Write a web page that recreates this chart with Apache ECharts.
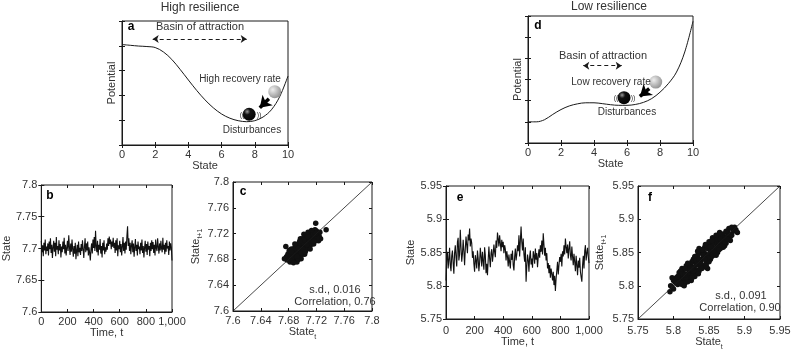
<!DOCTYPE html>
<html>
<head>
<meta charset="utf-8">
<script src="https://cdn.jsdelivr.net/npm/echarts@6/dist/echarts.min.js"></script>
<style>html,body{margin:0;padding:0;background:#fff}#main{width:800px;height:352px}</style>
</head>
<body>
<div id="main"></div>
<script>
// 势能曲线（状态 0-10）
var stateGrid = [0,0.5,1,1.5,2,2.5,3,3.5,4,4.5,5,5.5,6,6.5,7,7.5,8,8.5,9,9.5,10];
var highPotential = [4.05,4.02,3.99,3.97,3.93,3.75,3.45,3.05,2.62,2.2,1.82,1.5,1.25,1.08,0.98,0.94,0.98,1.13,1.42,1.95,2.78];
var lowPotential = [1.0,1.0,1.1,1.35,1.58,1.75,1.85,1.9,1.9,1.86,1.81,1.78,1.78,1.82,1.92,2.1,2.4,2.8,3.35,4.3,5.75];

// 球的位置 [state, potential]
var highGreyBall = [9.2, 2.15], highBlackBall = [7.66, 1.24];
var lowGreyBall = [7.74, 2.88], lowBlackBall = [5.82, 2.14];
var highPush = [[8.85, 1.86], [8.3, 1.5]];
var lowPush = [[7.35, 2.57], [6.78, 2.2]];
var highBasin = [[1.85, 4.27], [7.51, 4.27]];
var lowBasin = [[3.35, 3.65], [5.68, 3.65]];

// 时间序列，每 5 步一个值（t = 0..1000）
var highSeries = [
7.712,7.694,7.705,7.688,7.709,7.697,7.714,7.691,7.703,7.696,
7.708,7.689,7.711,7.699,7.716,7.693,7.706,7.685,7.702,7.712,
7.695,7.709,7.688,7.718,7.698,7.704,7.691,7.713,7.697,7.707,
7.686,7.703,7.694,7.711,7.699,7.717,7.692,7.706,7.689,7.701,
7.712,7.696,7.721,7.703,7.690,7.708,7.695,7.714,7.699,7.687,
7.704,7.692,7.709,7.683,7.697,7.706,7.688,7.711,7.694,7.701,
7.690,7.707,7.696,7.713,7.699,7.685,7.703,7.716,7.694,7.708,
7.697,7.711,7.689,7.702,7.693,7.681,7.699,7.708,7.692,7.714,
7.701,7.718,7.696,7.728,7.703,7.694,7.712,7.689,7.706,7.698,
7.715,7.692,7.704,7.686,7.709,7.697,7.713,7.691,7.702,7.695,
7.708,7.698,7.716,7.704,7.719,7.707,7.714,7.699,7.711,7.703,
7.717,7.701,7.709,7.693,7.713,7.697,7.716,7.688,7.705,7.699,
7.712,7.694,7.707,7.689,7.703,7.718,7.696,7.709,7.692,7.711,
7.698,7.720,7.735,7.704,7.716,7.696,7.709,7.691,7.705,7.713,
7.694,7.708,7.687,7.702,7.715,7.696,7.706,7.689,7.711,7.699,
7.703,7.691,7.709,7.697,7.714,7.693,7.704,7.686,7.701,7.712,
7.695,7.707,7.690,7.711,7.698,7.704,7.688,7.709,7.696,7.713,
7.699,7.710,7.693,7.706,7.689,7.714,7.701,7.696,7.716,7.703,
7.692,7.708,7.697,7.712,7.700,7.694,7.717,7.698,7.706,7.691,
7.709,7.695,7.713,7.700,7.704,7.690,7.711,7.697,7.708,7.702,
7.681];
var lowSeries = [
5.808,5.842,5.851,5.826,5.839,5.857,5.831,5.822,5.845,5.853,
5.834,5.818,5.849,5.861,5.843,5.829,5.866,5.872,5.838,5.847,
5.884,5.858,5.836,5.848,5.869,5.852,5.831,5.856,5.874,5.861,
5.849,5.877,5.868,5.886,5.859,5.871,5.864,5.842,5.852,5.833,
5.821,5.846,5.838,5.826,5.853,5.841,5.822,5.835,5.857,5.844,
5.829,5.851,5.837,5.824,5.858,5.846,5.819,5.833,5.816,5.839,
5.859,5.841,5.828,5.849,5.855,5.836,5.847,5.862,5.851,5.843,
5.868,5.857,5.880,5.871,5.859,5.876,5.864,5.852,5.869,5.858,
5.866,5.849,5.861,5.855,5.838,5.852,5.844,5.829,5.847,5.835,
5.826,5.848,5.839,5.853,5.831,5.823,5.844,5.856,5.838,5.847,
5.861,5.852,5.876,5.844,5.868,5.889,5.866,5.853,5.871,5.847,
5.836,5.858,5.806,5.829,5.847,5.839,5.821,5.844,5.853,5.832,
5.841,5.827,5.852,5.846,5.833,5.856,5.839,5.849,5.828,5.843,
5.855,5.842,5.861,5.851,5.868,5.847,5.879,5.862,5.845,5.857,
5.838,5.849,5.826,5.834,5.819,5.831,5.812,5.826,5.818,5.808,
5.821,5.801,5.815,5.792,5.811,5.823,5.836,5.817,5.831,5.843,
5.836,5.848,5.829,5.852,5.844,5.861,5.847,5.871,5.858,5.849,
5.862,5.841,5.856,5.867,5.846,5.838,5.859,5.844,5.831,5.848,
5.836,5.822,5.845,5.831,5.816,5.838,5.827,5.842,5.821,5.813,
5.806,5.831,5.845,5.826,5.852,5.861,5.838,5.849,5.857,5.844,
5.834];

// 滞后散点 [state_t, state_t+1]
var highLag = [
[7.700,7.700],[7.702,7.698],[7.698,7.703],[7.705,7.706],[7.695,7.694],[7.703,7.708],[7.697,7.692],[7.708,7.704],[7.692,7.697],[7.710,7.711],
[7.690,7.689],[7.706,7.713],[7.694,7.686],[7.712,7.706],[7.688,7.694],[7.714,7.716],[7.686,7.684],[7.701,7.711],[7.699,7.689],[7.716,7.710],
[7.684,7.690],[7.709,7.717],[7.691,7.683],[7.718,7.714],[7.682,7.682],[7.704,7.715],[7.696,7.685],[7.713,7.720],[7.687,7.680],[7.720,7.717],
[7.680,7.686],[7.707,7.701],[7.693,7.699],[7.711,7.709],[7.689,7.691],[7.699,7.707],[7.701,7.693],[7.715,7.713],[7.685,7.687],[7.703,7.703],
[7.697,7.697],[7.706,7.698],[7.694,7.702],[7.712,7.703],[7.688,7.697],[7.709,7.712],[7.691,7.688],[7.717,7.719],[7.683,7.681],[7.722,7.721],
[7.678,7.679],[7.720,7.724],[7.676,7.700],[7.734,7.726],[7.719,7.736],[7.692,7.676],[7.724,7.716],[7.679,7.688],[7.714,7.723],[7.686,7.678],
[7.726,7.712],[7.681,7.694],[7.708,7.722],[7.694,7.680],[7.723,7.709],[7.677,7.684],[7.702,7.719],[7.698,7.681],[7.718,7.726],[7.682,7.676],
[7.705,7.695],[7.695,7.705],[7.710,7.700],[7.690,7.700],[7.700,7.712],[7.700,7.688],[7.716,7.704],[7.684,7.696],[7.707,7.718],[7.693,7.682],
[7.719,7.709],[7.681,7.691],[7.713,7.725],[7.687,7.675],[7.725,7.722],[7.674,7.681],[7.703,7.688],[7.697,7.712],[7.711,7.696],[7.689,7.704],
[7.721,7.713],[7.679,7.685],[7.715,7.721],[7.685,7.679],[7.706,7.710],[7.694,7.690],[7.708,7.708],[7.692,7.692],[7.713,7.716],[7.687,7.684],
[7.699,7.704],[7.704,7.699],[7.696,7.700],[7.702,7.705],[7.707,7.711],[7.693,7.690],[7.711,7.714],[7.689,7.686],[7.705,7.702],[7.695,7.698],
[7.698,7.695],[7.703,7.697],[7.709,7.705],[7.691,7.694],[7.713,7.711],[7.687,7.689],[7.715,7.718],[7.685,7.683],[7.700,7.696],[7.701,7.706],
[7.706,7.703],[7.694,7.697],[7.710,7.714],[7.690,7.686],[7.712,7.708],[7.688,7.692],[7.717,7.715],[7.683,7.685],[7.719,7.720],[7.681,7.680],
[7.702,7.710],[7.698,7.690],[7.708,7.715],[7.692,7.685],[7.714,7.710],[7.686,7.690],[7.704,7.692],[7.696,7.708],[7.716,7.708],[7.684,7.692]
];
var lowLag = [
[5.840,5.840],[5.845,5.848],[5.835,5.832],[5.850,5.846],[5.830,5.836],[5.855,5.858],[5.825,5.822],[5.860,5.855],[5.820,5.826],[5.848,5.856],
[5.832,5.824],[5.865,5.862],[5.815,5.818],[5.852,5.840],[5.828,5.840],[5.870,5.866],[5.812,5.808],[5.842,5.852],[5.838,5.828],[5.858,5.868],
[5.822,5.812],[5.868,5.874],[5.810,5.815],[5.846,5.834],[5.834,5.846],[5.862,5.850],[5.818,5.830],[5.874,5.870],[5.806,5.802],[5.856,5.864],
[5.826,5.816],[5.876,5.880],[5.802,5.806],[5.838,5.850],[5.842,5.830],[5.864,5.872],[5.816,5.808],[5.880,5.874],[5.800,5.795],[5.851,5.861],
[5.829,5.819],[5.872,5.860],[5.808,5.820],[5.860,5.870],[5.820,5.810],[5.884,5.882],[5.796,5.800],[5.854,5.844],[5.826,5.836],[5.866,5.856],
[5.814,5.824],[5.878,5.886],[5.795,5.791],[5.844,5.858],[5.836,5.822],[5.870,5.878],[5.812,5.802],[5.888,5.884],[5.804,5.812],[5.858,5.848],
[5.824,5.832],[5.868,5.864],[5.818,5.814],[5.852,5.852],[5.832,5.832],[5.862,5.860],[5.822,5.820],[5.874,5.864],[5.808,5.816],[5.848,5.860],
[5.834,5.820],[5.866,5.876],[5.816,5.804],[5.882,5.876],[5.800,5.808],[5.856,5.846],[5.828,5.828],[5.872,5.872],[5.812,5.812],[5.840,5.854],
[5.846,5.828],[5.860,5.866],[5.824,5.814],[5.876,5.874],[5.806,5.810],[5.850,5.838],[5.830,5.842],[5.864,5.866],[5.820,5.818],[5.854,5.862],
[5.828,5.816],[5.870,5.868],[5.814,5.812],[5.842,5.846],[5.838,5.836],[5.858,5.852],[5.824,5.828],[5.878,5.878],[5.804,5.804],[5.886,5.888],
[5.890,5.880],[5.798,5.812],[5.880,5.868],[5.812,5.826],[5.836,5.856],[5.848,5.826],
[5.840,5.826],[5.840,5.854],[5.850,5.836],[5.830,5.844],[5.860,5.846],[5.820,5.834],[5.870,5.858],[5.810,5.822],[5.845,5.862],[5.835,5.818],
[5.855,5.872],[5.825,5.808],[5.865,5.880],[5.815,5.800],[5.848,5.842],[5.832,5.838],[5.858,5.856],[5.822,5.824],[5.868,5.860],[5.812,5.818],
[5.838,5.834],[5.842,5.846],[5.852,5.858],[5.828,5.822],[5.862,5.870],[5.818,5.812],[5.872,5.866],[5.808,5.806],[5.844,5.840],[5.836,5.840],
[5.856,5.852],[5.826,5.826],[5.866,5.870],[5.816,5.816],[5.876,5.870],[5.806,5.814],[5.850,5.866],[5.830,5.814],[5.860,5.876],[5.820,5.806],
[5.834,5.852],[5.846,5.830],[5.854,5.868],[5.826,5.812],[5.864,5.854],[5.816,5.826],[5.874,5.882],[5.810,5.804],[5.882,5.888],[5.798,5.798]
];

var font = '"Liberation Sans", Arial, sans-serif';
var ink = '#1a1a1a';
var txt = '#333';

function pairs(xs, ys) {
	var out = [];
	for (var i = 0; i < ys.length; i++) out.push([xs[i], ys[i]]);
	return out;
}
function timePairs(vals) {
	var out = [];
	for (var i = 0; i < vals.length; i++) out.push([i * 5, vals[i]]);
	return out;
}
function commaFmt(v) { return v >= 1000 ? '1,000' : String(v); }

var subRich = {
	m: {fontSize: 11, fontFamily: font, color: txt, lineHeight: 16, verticalAlign: 'middle'},
	s: {fontSize: 7, fontFamily: font, color: txt, lineHeight: 16, verticalAlign: 'bottom'}
};

// 每个面板：底/顶 x 轴，左/右 y 轴
var grids = [], xAxes = [], yAxes = [];
function panel(box, xr, yr, o) {
	var gi = grids.length;
	grids.push({left: box[0], top: box[1], width: box[2], height: box[3], show: true, borderColor: ink, borderWidth: 1, backgroundColor: 'transparent'});
	var tick = {show: true, inside: true, length: 3, lineStyle: {color: ink, width: 1}};
	xAxes.push({
		type: 'value', gridIndex: gi, position: 'bottom', min: xr[0], max: xr[1], interval: xr[2],
		axisLine: {show: true, onZero: false, lineStyle: {color: ink, width: 1}}, axisTick: tick,
		axisLabel: {color: txt, fontSize: 11, fontFamily: font, margin: o.xMargin || 4, formatter: o.xFmt},
		splitLine: {show: false},
		name: o.xName, nameLocation: 'middle', nameGap: o.xGap,
		nameTextStyle: {color: txt, fontSize: 11, fontFamily: font, rich: subRich}
	});
	xAxes.push({
		type: 'value', gridIndex: gi, position: 'top', min: xr[0], max: xr[1], interval: xr[2],
		axisLine: {show: false}, axisTick: tick, axisLabel: {show: false}, splitLine: {show: false}
	});
	yAxes.push({
		type: 'value', gridIndex: gi, position: 'left', min: yr[0], max: yr[1], interval: yr[2],
		axisLine: {show: true, onZero: false, lineStyle: {color: ink, width: 1}}, axisTick: tick,
		axisLabel: {show: !o.noYLabels, color: txt, fontSize: 11, fontFamily: font, margin: 4},
		splitLine: {show: false},
		name: o.yName, nameLocation: 'middle', nameGap: o.yGap,
		nameTextStyle: {color: txt, fontSize: 11, fontFamily: font, rich: subRich}
	});
	yAxes.push({
		type: 'value', gridIndex: gi, position: 'right', min: yr[0], max: yr[1], interval: yr[2],
		axisLine: {show: false}, axisTick: tick, axisLabel: {show: false}, splitLine: {show: false}
	});
	return gi;
}

var pA = panel([122, 21, 166, 124], [0, 10, 2], [0, 5, 1], {xName: 'State', xGap: 14, yName: 'Potential', yGap: 5, noYLabels: true});
var pD = panel([528, 16, 165, 127], [0, 10, 2], [0, 6, 1], {xName: 'State', xGap: 13, yName: 'Potential', yGap: 5, noYLabels: true});
var pB = panel([38, 185, 134, 127], [0, 1000, 200], [7.6, 7.8, 0.05], {xName: 'Time, t', xGap: 15, yName: 'State', yGap: 28, xFmt: commaFmt});
var pC = panel([233, 182, 139, 129], [7.6, 7.8, 0.04], [7.6, 7.8, 0.04], {xName: '{m|State}{s|t}', xGap: 13, yName: '{m|State}{s|t+1}', yGap: 26});
var pE = panel([446, 186, 143, 133], [0, 1000, 200], [5.75, 5.95, 0.05], {xName: 'Time, t', xGap: 16, yName: 'State', yGap: 30, xFmt: commaFmt, xMargin: 6});
var pF = panel([638, 186, 142, 133], [5.75, 5.95, 0.05], [5.75, 5.95, 0.05], {xName: '{m|State}{s|t}', xGap: 15, yName: '{m|State}{s|t+1}', yGap: 30, xMargin: 6});

function ax(gi) { return {xAxisIndex: gi * 2, yAxisIndex: gi * 2}; }
function extend(a, b) { for (var k in b) a[k] = b[k]; return a; }

var greyBall = {type: 'radial', x: 0.35, y: 0.35, r: 0.75, colorStops: [{offset: 0, color: '#eeeeee'}, {offset: 1, color: '#8a8a8a'}]};
var blackBall = {type: 'radial', x: 0.35, y: 0.3, r: 0.8, colorStops: [{offset: 0, color: '#999'}, {offset: 0.3, color: '#111'}, {offset: 1, color: '#000'}]};

function potentialSeries(gi, ys, basin) {
	return extend({
		type: 'line', data: pairs(stateGrid, ys), smooth: 0.35, symbol: 'none',
		lineStyle: {color: ink, width: 1}, silent: true,
		markLine: {
			silent: true, symbol: ['arrow', 'arrow'], symbolSize: 6, label: {show: false},
			lineStyle: {color: ink, width: 1, type: [4, 3]},
			data: [[{coord: basin[0]}, {coord: basin[1]}]]
		}
	}, ax(gi));
}
function ballSeries(gi, grey, black, push) {
	return extend({
		type: 'scatter', symbolSize: 13, silent: true, z: 5,
		itemStyle: {opacity: 1},
		data: [
			{value: grey, itemStyle: {color: greyBall, opacity: 1}},
			{value: black, itemStyle: {color: blackBall, opacity: 1}}
		]
	}, ax(gi));
}
function pushSeries(gi, push) {
	// 粗黑箭头：折线 + 终点箭头
	return extend({
		type: 'line', data: [], silent: true, z: 6,
		markLine: {
			silent: true, symbol: ['none', 'arrow'], symbolSize: 11, label: {show: false},
			lineStyle: {color: '#000', width: 3.5, type: 'solid', opacity: 1},
			data: [[{coord: push[0]}, {coord: push[1]}]]
		}
	}, ax(gi));
}
function diagSeries(gi, lo, hi) {
	return extend({type: 'line', data: [[lo, lo], [hi, hi]], symbol: 'none', lineStyle: {color: ink, width: 0.8}, silent: true}, ax(gi));
}
function cloudSeries(gi, pts) {
	return extend({type: 'scatter', data: pts, symbol: 'circle', symbolSize: 5.5, itemStyle: {color: '#111', opacity: 1}, silent: true}, ax(gi));
}
function traceSeries(gi, vals) {
	return extend({type: 'line', data: timePairs(vals), symbol: 'none', lineStyle: {color: '#111', width: 1.1}, silent: true}, ax(gi));
}

function label(text, x, y, size, weight, align) {
	return {type: 'text', x: x, y: y, silent: true, z: 10,
		style: {text: text, fill: weight === 'bold' ? '#000' : txt, fontSize: size, fontWeight: weight || 'normal', fontFamily: font, align: align || 'center', verticalAlign: 'middle'}};
}

var chart = echarts.init(document.getElementById('main'), null, {renderer: 'canvas'});
chart.setOption({
	animation: false,
	backgroundColor: '#fff',
	grid: grids, xAxis: xAxes, yAxis: yAxes,
	series: [
		potentialSeries(pA, highPotential, highBasin),
		pushSeries(pA, highPush),
		ballSeries(pA, highGreyBall, highBlackBall),
		potentialSeries(pD, lowPotential, lowBasin),
		pushSeries(pD, lowPush),
		ballSeries(pD, lowGreyBall, lowBlackBall),
		traceSeries(pB, highSeries),
		diagSeries(pC, 7.6, 7.8),
		cloudSeries(pC, highLag),
		traceSeries(pE, lowSeries),
		diagSeries(pF, 5.75, 5.95),
		cloudSeries(pF, lowLag)
	],
	graphic: [
		label('High resilience', 200, 8, 12),
		label('Low resilience', 609, 7, 12),
		label('a', 131, 27, 12, 'bold'),
		label('d', 538, 26, 12, 'bold'),
		label('b', 50, 196, 12, 'bold'),
		label('c', 243, 192, 12, 'bold'),
		label('e', 460, 198, 12, 'bold'),
		label('f', 650, 198, 12, 'bold'),
		label('Basin of attraction', 200, 27, 11),
		label('Basin of attraction', 603, 56, 11),
		label('High recovery rate', 240, 79, 10),
		label('Low recovery rate', 611, 82, 10),
		label('Disturbances', 252, 130, 10),
		label('Disturbances', 627, 112, 10),
		label('((', 242, 115, 7), label('))', 259, 115, 7),
		label('((', 616, 98, 7), label('))', 633, 98, 7),
		label('s.d., 0.016', 335, 290, 11),
		label('Correlation, 0.76', 335, 302, 11),
		label('s.d., 0.091', 741, 296, 11),
		label('Correlation, 0.90', 740, 308, 11)
	]
});
</script>
</body>
</html>
